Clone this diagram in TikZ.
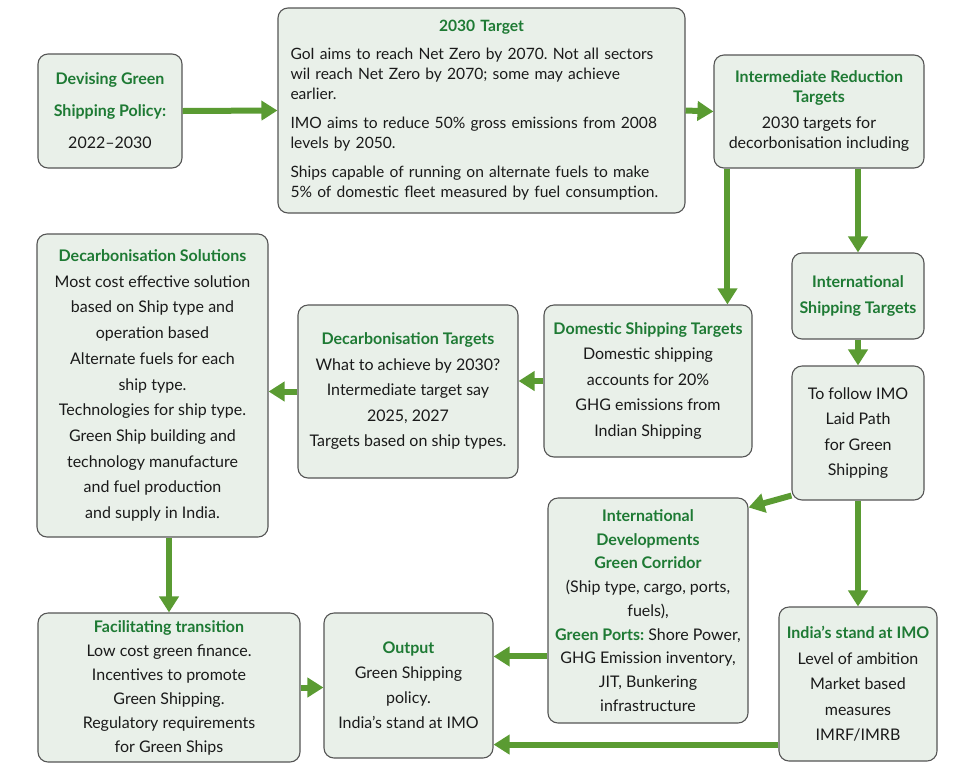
\documentclass[tikz,border=0pt]{standalone}
\usepackage{fontspec}
\setmainfont{Lato}
\usetikzlibrary{arrows.meta}
\frenchspacing

\definecolor{arrowgreen}{HTML}{5A9B32}
\definecolor{titlegreen}{HTML}{1E7A34}
\definecolor{boxfill}{HTML}{E9F0E9}
\definecolor{boxline}{HTML}{555555}
\definecolor{bodytext}{HTML}{1A1A1A}
\newcommand{\hd}[1]{\textcolor{titlegreen}{\textbf{#1}}}

\begin{document}
\begin{tikzpicture}[x=1pt, y=-1pt,
		box/.style={rectangle, rounded corners=10pt, draw=boxline, line width=1.1pt, fill=boxfill, text=bodytext, align=center, inner sep=0pt, font=\fontsize{16}{25.5}\selectfont},
		arr/.style={draw=arrowgreen, line width=6pt, -{Triangle[length=16pt, width=19pt]}}]
			\useasboundingbox (0,0) rectangle (979,780);
			
			% Top row
			\node[box, minimum width=144, minimum height=114, font=\fontsize{16}{32}\selectfont] (policy) at (110,111) {\hd{Devising Green}\\\hd{Shipping Policy:}\\2022--2030};
			\node[box, minimum width=407, minimum height=205, text width=382pt, align=left, font=\fontsize{15.6}{20}\selectfont] (target) at (481.5,110.5) {\makebox[\linewidth][c]{\hd{2030 Target}}\\[8pt]GoI aims to reach Net Zero by 2070. Not all sectors\\wil reach Net Zero by 2070; some may achieve\\earlier.\\[9pt]IMO aims to reduce 50\% gross emissions from 2008\\levels by 2050.\\[9pt]Ships capable of running on alternate fuels to make\\5\% of domestic fleet measured by fuel consumption.};
			\node[box, minimum width=210, minimum height=113, font=\fontsize{16}{20}\selectfont] (interim) at (819,111.5) {\hd{Intermediate Reduction}\\\hd{Targets}\\[6pt]2030 targets for\\decorbonisation including};
			
			% Right column
			\node[box, minimum width=132, minimum height=86] (intl) at (858,296) {\hd{International}\\\hd{Shipping Targets}};
			\node[box, minimum width=132, minimum height=134] (imopath) at (858,433) {To follow IMO\\Laid Path\\for Green\\Shipping};
			\node[box, minimum width=158, minimum height=154] (stand) at (858,684) {\hd{India's stand at IMO}\\Level of ambition\\Market based\\measures\\IMRF/IMRB};
			
			% Middle row
			\node[box, minimum width=208, minimum height=152] (domestic) at (648,381) {\hd{Domestic Shipping Targets}\\Domestic shipping\\accounts for 20\%\\GHG emissions from\\Indian Shipping};
			\node[box, minimum width=220, minimum height=173] (dectargets) at (408,391.5) {\hd{Decarbonisation Targets}\\What to achieve by 2030?\\Intermediate target say\\2025, 2027\\Targets based on ship types.};
			\node[box, minimum width=231, minimum height=303, font=\fontsize{16}{25.7}\selectfont] (solutions) at (152.5,385.5) {\hd{Decarbonisation Solutions}\\Most cost effective solution\\based on Ship type and\\operation based\\Alternate fuels for each\\ship type.\\Technologies for ship type.\\Green Ship building and\\technology manufacture\\and fuel production\\and supply in India.};
			
			% Bottom row
			\node[box, minimum width=262, minimum height=149, font=\fontsize{16}{24}\selectfont] (transition) at (169,687.5) {\hd{Facilitating transition}\\Low cost green finance.\\Incentives to promote\\Green Shipping.\\Regulatory requirements\\for Green Ships};
			\node[box, minimum width=169, minimum height=145, font=\fontsize{16}{25}\selectfont] (output) at (408.5,685.5) {\hd{Output}\\Green Shipping\\policy.\\India's stand at IMO};
			\node[box, minimum width=200, minimum height=225, font=\fontsize{16}{23.7}\selectfont] (developments) at (648,610.5) {\hd{International}\\\hd{Developments}\\\hd{Green Corridor}\\(Ship type, cargo, ports,\\fuels),\\\hd{Green Ports:} Shore Power,\\GHG Emission inventory,\\JIT, Bunkering\\infrastructure};
			
			% Connections
			\coordinate (split) at ([xshift=14pt]interim.south west);
			\coordinate (out-a) at ([yshift=-44pt]output.north east);
			\coordinate (out-b) at ([yshift=14pt]output.south east);
			\draw[arr] (policy.east) -- (target.west);
			\draw[arr] (target.east) -- (interim.west);
			\draw[arr] (intl.north |- interim.south) -- (intl.north);
			\draw[arr] (split) -- (split |- domestic.north);
			\draw[arr] (intl.south) -- (imopath.north);
			\draw[arr] (domestic.west) -- (domestic.west -| dectargets.east);
			\draw[arr] (dectargets.west) -- (dectargets.west -| solutions.east);
			\draw[arr] (transition.north |- solutions.south) -- (transition.north);
			\draw[arr] (transition.east) -- (transition.east -| output.west);
			\draw[arr] ([yshift=5pt]imopath.south west) -- ([yshift=-10pt]developments.north east);
			\draw[arr] (imopath.south) -- (stand.north);
			\draw[arr] (developments.west |- out-a) -- (out-a);
			\draw[arr] (stand.west |- out-b) -- (out-b);
		\end{tikzpicture}
\end{document}
